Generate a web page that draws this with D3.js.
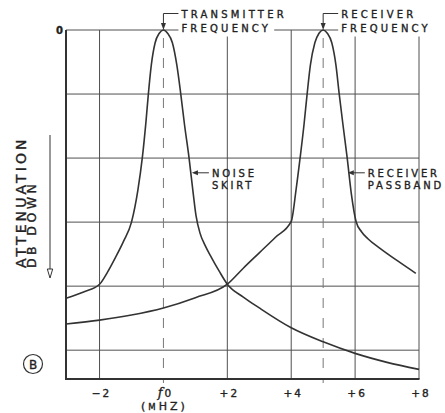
<!DOCTYPE html>
<html><head><meta charset="utf-8">
<script src="https://cdn.jsdelivr.net/npm/d3@7"></script>
<style>
body{margin:0;background:#fff}
svg{display:block}
text{font-family:"DejaVu Sans",sans-serif;fill:#222;stroke:#222;stroke-width:0.35px}
</style>
</head><body>
<svg id="c" width="445" height="413"></svg>
<script>
// ---- data ----
const xGridFreqs = [-2, 2, 4, 6, 8];
const xDashedFreqs = [0, 5];
const xTickFreqs = [-2, 0, 2, 4, 6, 8];
const xTickLabels = ["−2", "f0", "+2", "+4", "+6", "+8"];
const yGridAtten = [10, 20, 30, 40, 50];
const yTickLabels = ["0"];
const xUnit = ["(", "M", "HZ)"];
const yTitle = ["ATTENUATION", "DB DOWN"];
const panelLetter = "B";

// transmitter noise skirt (MHz, dB down)
const txFreq  = [-3.05, -2.5, -2, -1.75, -1.5, -1.25, -1.0, -0.8, -0.66, -0.55, -0.47, -0.38, -0.26, -0.13, 0,
                 0.13, 0.28, 0.42, 0.54, 0.66, 0.8, 0.92, 1.02, 1.15, 1.3, 1.5, 1.75, 2, 2.5, 3, 4, 5, 6, 7, 8];
const txAtten = [41.9, 40.9, 39.7, 37.8, 35.5, 33.0, 30.0, 25.0, 19.9, 14.5, 9.9, 5.5, 2.0, 0.5, 0,
                 0.5, 2.0, 5.5, 9.9, 14.8, 19.9, 25.0, 29.0, 31.8, 33.6, 35.5, 37.7, 39.7, 41.7, 43.4, 46.5, 48.7, 50.5, 51.9, 53.0];
// receiver passband (MHz, dB down)
const rxFreq  = [-3.05, -2, -1, 0, 1, 2, 2.5, 3.0, 3.5, 4.0, 4.15, 4.28, 4.4, 4.5, 4.6, 4.74, 4.87, 5,
                 5.13, 5.27, 5.4, 5.5, 5.62, 5.75, 5.88, 6.03, 6.2, 6.4, 6.78, 7.4, 7.9];
const rxAtten = [45.9, 45.3, 44.5, 43.4, 41.8, 39.7, 37.2, 34.8, 32.4, 29.9, 25.0, 19.9, 14.8, 9.9, 5.5, 2.0, 0.5, 0,
                 0.5, 2.0, 5.5, 9.9, 14.8, 19.9, 25.5, 29.9, 31.5, 32.6, 34.1, 36.3, 38.0];

const peakLabels = [["TRANSMITTER", "FREQUENCY"], ["RECEIVER", "FREQUENCY"]];
const peakFreqs = [0, 5];
const curveLabels = [["NOISE", "SKIRT"], ["RECEIVER", "PASSBAND"]];
const curveLabelFreqs = [0.86, 5.74];
const curveLabelAtten = [22.3, 22.3];

// ---- drawing ----
const svg = d3.select("#c");
const x = d3.scaleLinear().domain([-3.05, 8]).range([66, 419]);
const y = d3.scaleLinear().domain([0, 54.5]).range([30, 379]);
const ink = "#333";
const grid = "#505050";

const g = svg.append("g");

g.selectAll("line.h").data([0, ...yGridAtten]).join("line")
  .attr("x1", x(-3.05)).attr("x2", x(8))
  .attr("y1", d => y(d)).attr("y2", d => y(d))
  .attr("stroke", grid).attr("stroke-width", 1);

g.selectAll("line.v").data(xGridFreqs).join("line")
  .attr("x1", d => x(d)).attr("x2", d => x(d))
  .attr("y1", y(0)).attr("y2", y(54.5))
  .attr("stroke", grid).attr("stroke-width", 1);

g.selectAll("line.d").data(xDashedFreqs).join("line")
  .attr("x1", d => x(d)).attr("x2", d => x(d))
  .attr("y1", y(0) + 8).attr("y2", y(54.5) + 4)
  .attr("stroke", "#777").attr("stroke-width", 1)
  .attr("stroke-dasharray", "10,10");

g.append("line").attr("x1", x(-3.05)).attr("x2", x(-3.05)).attr("y1", y(0)).attr("y2", y(54.5))
  .attr("stroke", ink).attr("stroke-width", 2);
g.append("line").attr("x1", x(-3.05) - 1).attr("x2", x(8) + 0.5).attr("y1", y(54.5)).attr("y2", y(54.5))
  .attr("stroke", ink).attr("stroke-width", 2);

const line = d3.line().x(d => x(d[0])).y(d => y(d[1])).curve(d3.curveMonotoneX);
const txData = txFreq.map((f, i) => [f, txAtten[i]]);
const rxData = rxFreq.map((f, i) => [f, rxAtten[i]]);
[txData, rxData].forEach(d => {
  g.append("path").attr("d", line(d)).attr("fill", "none")
    .attr("stroke", ink).attr("stroke-width", 1.6).attr("stroke-linejoin", "round");
});

svg.append("text").attr("x", x(-3.05) - 3).attr("y", y(0) + 3.5)
  .attr("text-anchor", "end").attr("font-size", 10).attr("font-weight", "bold").text(yTickLabels[0]);

const xl = svg.selectAll("text.xt").data(xTickFreqs).join("text")
  .attr("x", d => x(d) + 2).attr("y", 397)
  .attr("text-anchor", "middle").attr("font-size", 10.5)
  .attr("letter-spacing", 2);
xl.each(function(d, i) {
  const t = d3.select(this);
  const lab = xTickLabels[i];
  if (lab === "f0") {
    t.append("tspan").attr("font-family", "DejaVu Serif").attr("font-style", "italic").attr("font-size", 13).text("f");
    t.append("tspan").text("0");
  } else t.text(lab);
});
const unit = svg.append("text").attr("x", x(0) + 1).attr("y", 410)
  .attr("text-anchor", "middle").attr("font-size", 11).attr("letter-spacing", 3);
unit.append("tspan").text(xUnit[0]);
unit.append("tspan").attr("font-size", 8.5).text(xUnit[1]);
unit.append("tspan").text(xUnit[2]);

const yt = svg.append("g").attr("transform", "translate(25.5,268) rotate(-90)");
yt.append("text").attr("x", 0).attr("y", 0).attr("font-size", 14).attr("letter-spacing", 3.1).text(yTitle[0]);
yt.append("text").attr("x", 0).attr("y", 10.5).attr("font-size", 12.5).attr("letter-spacing", 3.4).text(yTitle[1]);
svg.append("line").attr("x1", 50).attr("x2", 50).attr("y1", 135).attr("y2", 270)
  .attr("stroke", ink).attr("stroke-width", 1);
svg.append("path").attr("d", `M47.3,269 L52.7,269 L50,278 Z`)
  .attr("fill", "#fff").attr("stroke", ink).attr("stroke-width", 1);

svg.append("circle").attr("cx", 33).attr("cy", 364).attr("r", 9.5)
  .attr("fill", "none").attr("stroke", ink).attr("stroke-width", 1.2);
svg.append("text").attr("x", 33).attr("y", 368.5).attr("text-anchor", "middle")
  .attr("font-size", 12).text(panelLetter);

peakFreqs.forEach((f, i) => {
  const px = x(f), py = y(0);
  const tx = px + 18;
  const t2 = svg.append("text").attr("x", tx).attr("y", 31.5)
    .attr("font-size", 10).attr("letter-spacing", 3.2)
    .text(peakLabels[i][1]);
  const bb = t2.node().getBBox();
  svg.insert("rect", "text").attr("x", bb.x - 3).attr("y", 22).attr("width", bb.width + 6).attr("height", 14.5)
    .attr("fill", "#fff");
  svg.append("text").attr("x", tx).attr("y", 18.3)
    .attr("font-size", 10).attr("letter-spacing", 3.2)
    .text(peakLabels[i][0]);
  svg.append("path").attr("d", `M${tx - 3},${py - 16.5} H${px} V${py - 6}`)
    .attr("fill", "none").attr("stroke", ink).attr("stroke-width", 1);
  svg.append("path").attr("d", `M${px - 2.5},${py - 7} L${px + 2.5},${py - 7} L${px},${py} Z`)
    .attr("fill", ink);
});

curveLabelFreqs.forEach((f, i) => {
  const px = x(f) + 1, py = y(curveLabelAtten[i]);
  svg.append("line").attr("x1", px + 4).attr("x2", px + 17).attr("y1", py).attr("y2", py)
    .attr("stroke", ink).attr("stroke-width", 1);
  svg.append("path").attr("d", `M${px},${py} L${px + 6},${py - 2.5} L${px + 6},${py + 2.5} Z`).attr("fill", ink);
  svg.append("text").attr("x", px + 20).attr("y", py + 4)
    .attr("font-size", 10).attr("letter-spacing", 2.8).text(curveLabels[i][0]);
  svg.append("text").attr("x", px + 20).attr("y", py + 16.5)
    .attr("font-size", 10).attr("letter-spacing", 2.8).text(curveLabels[i][1]);
});
</script>
</body></html>
